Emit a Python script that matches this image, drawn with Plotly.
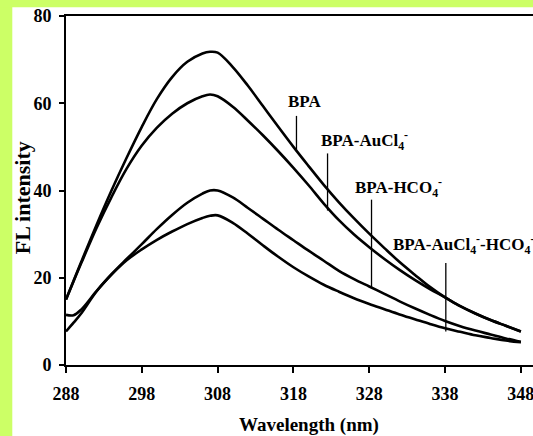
import plotly.graph_objects as go

wavelength = [288, 289, 290, 292, 294, 296, 298, 300, 302, 304, 306, 307, 308, 310, 312, 314, 316,
              318, 320, 322, 324, 326, 328, 330, 332, 334, 336, 338, 340, 342, 344, 346, 348]

bpa = [15.0, 19.3, 23.6, 32.0, 40.0, 47.5, 54.6, 61.0, 66.0, 69.5, 71.4, 71.8, 71.6, 68.3, 64.0, 59.3, 54.6,
       50.0, 45.6, 41.3, 37.3, 33.6, 30.1, 26.8, 23.6, 20.7, 17.9, 15.5, 13.5, 11.8, 10.3, 9.0, 7.7]
bpa_aucl4 = [15.0, 19.2, 23.3, 31.3, 38.5, 45.0, 50.3, 54.4, 57.6, 60.0, 61.6, 62.0, 61.6, 59.2, 56.0, 52.6, 49.0,
             45.2, 41.2, 37.0, 33.2, 29.9, 27.0, 24.3, 21.8, 19.5, 17.4, 15.5, 13.5, 11.8, 10.3, 9.0, 7.7]
bpa_hco4 = [11.5, 11.4, 12.7, 16.9, 20.8, 24.3, 27.7, 31.2, 34.4, 37.2, 39.3, 40.0, 40.0, 38.4, 36.0, 33.5, 31.0,
            28.6, 26.2, 23.9, 21.6, 19.7, 18.0, 16.3, 14.6, 13.0, 11.5, 10.1, 8.9, 7.9, 7.0, 6.1, 5.3]
bpa_aucl4_hco4 = [7.7, 9.7, 11.8, 16.8, 20.7, 24.0, 26.5, 28.7, 30.6, 32.3, 33.7, 34.2, 34.3, 32.6, 30.1, 27.4, 24.8,
                  22.4, 20.3, 18.4, 16.8, 15.3, 14.0, 12.8, 11.6, 10.5, 9.4, 8.4, 7.6, 6.8, 6.2, 5.6, 5.2]

series = [bpa, bpa_aucl4, bpa_hco4, bpa_aucl4_hco4]

label_texts = ["BPA", "BPA-AuCl<sub>4</sub><sup>-</sup>", "BPA-HCO<sub>4</sub><sup>-</sup>",
               "BPA-AuCl<sub>4</sub><sup>-</sup>-HCO<sub>4</sub><sup>-</sup>"]
label_x = [319.5, 327.4, 331.8, 340.4]
label_y = [60.4, 51.4, 40.8, 27.6]
leader_x = [318.4, 322.5, 328.3, 338.1]
leader_y_top = [57.1, 48.5, 37.9, 23.4]
leader_y_bottom = [49.3, 35.4, 17.6, 7.7]

x_ticks = [288, 298, 308, 318, 328, 338, 348]
y_ticks = [0, 20, 40, 60, 80]

LIME = "#ccff66"
SERIF = "Liberation Serif, Times New Roman, serif"

fig = go.Figure()
for s in series:
    fig.add_trace(go.Scatter(x=wavelength, y=s, mode="lines",
                             line=dict(color="black", width=2.6, shape="spline", smoothing=1.0),
                             showlegend=False, hoverinfo="skip"))

for lx, yt, yb in zip(leader_x, leader_y_top, leader_y_bottom):
    fig.add_shape(type="line", xref="x", yref="y", x0=lx, x1=lx, y0=yt, y1=yb,
                  line=dict(color="black", width=1.3))

for t, x, y in zip(label_texts, label_x, label_y):
    fig.add_annotation(x=x, y=y, xref="x", yref="y", text=t, showarrow=False,
                       font=dict(family=SERIF, size=17, color="black", weight="bold"),
                       xanchor="center", yanchor="middle")

# lime border strips
fig.add_shape(type="rect", xref="paper", yref="paper", x0=-0.2, x1=-0.115, y0=-0.5, y1=1.5,
              fillcolor=LIME, line=dict(width=0), layer="above")
fig.add_shape(type="rect", xref="paper", yref="paper", x0=-0.2, x1=1.2, y0=1.025, y1=1.5,
              fillcolor=LIME, line=dict(width=0), layer="above")

fig.add_annotation(x=-0.094, y=0.478, xref="paper", yref="paper", text="FL intensity",
                   textangle=-90, showarrow=False,
                   font=dict(family=SERIF, size=22, color="black", weight="bold"),
                   xanchor="center", yanchor="middle")
fig.add_annotation(x=0.52, y=-0.171, xref="paper", yref="paper", text="Wavelength (nm)",
                   showarrow=False, font=dict(family=SERIF, size=19, color="black", weight="bold"),
                   xanchor="center", yanchor="middle")

fig.update_layout(
    width=533, height=436,
    margin=dict(l=66, r=0, t=16, b=71),
    paper_bgcolor="white", plot_bgcolor="white",
    xaxis=dict(range=[288, 349.6], tickvals=x_ticks, ticktext=[str(v) for v in x_ticks],
               showgrid=False, zeroline=False, showline=True, linecolor="black", linewidth=2,
               mirror=True, ticks="outside", ticklen=6, tickwidth=1.5, tickcolor="black",
               ticklabeloverflow="allow",
               tickfont=dict(family=SERIF, size=18, color="black", weight="bold"), ticklabelstandoff=5),
    yaxis=dict(range=[0, 80], tickvals=y_ticks, ticktext=[str(v) for v in y_ticks],
               showgrid=False, zeroline=False, showline=True, linecolor="black", linewidth=2,
               ticks="outside", ticklen=5, tickwidth=1.5, tickcolor="black",
               tickfont=dict(family=SERIF, size=18, color="black", weight="bold"), ticklabelstandoff=4),
)

fig.write_html("out.html")
